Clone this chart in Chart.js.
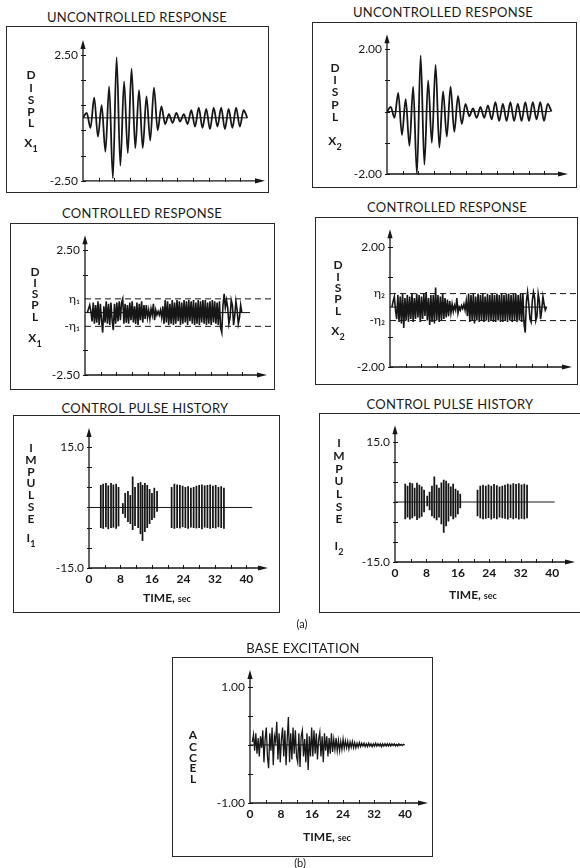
<!DOCTYPE html>
<html><head><meta charset="utf-8">
<script src="https://cdn.jsdelivr.net/npm/chart.js@4/dist/chart.umd.min.js"></script>
<style>
html,body{margin:0;padding:0;background:#fff;}
#page{position:relative;width:580px;height:868px;overflow:hidden;background:#fff;font-family:Lato,"DejaVu Sans",sans-serif;color:#1a1a1a;}
.box{position:absolute;border:1.5px solid #2a2a2a;box-sizing:border-box;}
.cv{position:absolute;}
.t{position:absolute;transform:translate(-50%,-50%);white-space:nowrap;line-height:1;}
.title{font-size:13px;letter-spacing:0.3px;}
.ylab{font-size:12px;font-weight:bold;}
.xlab{font-size:12px;font-weight:bold;}
.xlab small{font-size:9px;}
.cap{font-size:11px;}
sub{font-size:9px;vertical-align:-5px;line-height:0;}
</style></head>
<body><div id="page"></div>
<script>
const INK = '#161616';
const FONT = 'Lato';

// ---------------- data ----------------
// uncontrolled responses: successive half-cycle peaks, sampled every uncStep seconds from t = 0
const uncStep = 0.95;
const x1Uncontrolled = [0, 0.2, -0.4, 0.8, -0.75, 0.5, -1.35, 1.25, -2.4, 2.4, -1.9, 1.45, -1.4, 1.95, -1.2, 1.1, -1.2, 0.85, -0.9, 1.2, -0.5, 0.45, -0.25, 0.15, -0.2, 0.2, -0.15, 0.15, -0.25, 0.3, -0.35, 0.4, -0.4, 0.35, -0.45, 0.4, -0.35, 0.4, -0.45, 0.35, -0.4, 0.4, -0.35, 0.3, 0];
const x2Uncontrolled = [0, 0.15, -0.2, 0.6, -0.75, 0.4, -1.1, 0.8, -2.0, 1.8, -1.7, 1.0, -1.0, 1.5, -1.15, 0.65, -0.8, 0.8, -0.65, 0.5, -0.4, 0.25, -0.15, 0.1, -0.2, 0.15, -0.2, 0.2, -0.25, 0.3, -0.3, 0.25, -0.3, 0.3, -0.3, 0.25, -0.3, 0.3, -0.3, 0.3, -0.25, 0.3, -0.3, 0.25, 0];

// controlled responses: sampled every ctlStep seconds from ctlStart
const ctlStart = 0.6, ctlStep = 0.3;
const x1Controlled = [0, 0.15, 0.3, 0.05,
  -0.35, 0.4, -0.45, 0.3, -0.4, 0.45, -0.5, 0.35, -0.3, -0.8, 0.25, -0.4, 0.45,
  -0.45, 0.35, -0.5, 0.4, -0.3, -0.7, 0.35, -0.45, 0.4,
  -0.35, 0.45, -0.3, 0.4, 0.55, -0.45, 0.35, -0.4, 0.3,
  -0.45, 0.4, -0.3, 0.45, -0.4, 0.25, -0.45, 0.4, -0.5, 0.35, -0.3, 0.45, -0.4, 0.3, -0.25, 0.3,
  -0.2, 0.1, -0.25, 0.15, -0.1, 0.35, -0.3, 0.1, -0.1, 0.05, -0.1, 0.1, -0.2, 0.25,
  -0.45, 0.5, -0.4, 0.45, -0.5, 0.35, -0.45, 0.5, -0.5, 0.4, -0.45, 0.5, -0.35, 0.45, -0.5, 0.4, -0.45, 0.5, -0.4, 0.45, -0.5, 0.5, -0.35, 0.45, -0.45, 0.5, -0.5, 0.4, -0.45, 0.5, -0.5, 0.45, -0.4, 0.5, -0.45, 0.5, -0.5, 0.4, -0.45, 0.45, -0.5, 0.5, -0.4, 0.45, -0.45,
  0.4, -0.5, 0.45, -0.6, -0.8, 0.3, 0.75, 0.2,
  0.5, 0.2, -0.45, -0.2, 0.5, 0.3, -0.5, -0.1, 0.45, 0.1, -0.45, -0.2, 0.3, 0.0];
const x2Controlled = [0, 0.2, 0.35, -0.1,
  -0.4, 0.4, -0.5, 0.35, -0.55, 0.45, -0.7, 0.3, -0.45, 0.4, -0.5, 0.35, -0.4,
  0.45, -0.5, 0.3, -0.4, 0.45, -0.35, 0.4, -0.5, 0.35,
  -0.4, 0.45, -0.3, 0.5, -0.45, 0.3, -0.6, 0.4, -0.5,
  0.4, -0.55, 0.65, -0.45, 0.4, -0.5, 0.35, -0.45, 0.45, -0.4, 0.3, -0.35, 0.25, -0.3, 0.2, -0.2,
  0.1, -0.15, 0.05, -0.1, 0.3, -0.2, 0.0, -0.1, 0.05, -0.05, 0.1, -0.1, 0.2, -0.3,
  0.45, -0.5, 0.4, -0.45, 0.45, -0.55, 0.35, -0.45, 0.45, -0.5, 0.4, -0.45, 0.45, -0.5, 0.35, -0.45, 0.45, -0.5, 0.4, -0.45, 0.45, -0.5, 0.4, -0.5, 0.45, -0.45, 0.4, -0.5, 0.45, -0.5, 0.4, -0.45, 0.45, -0.5, 0.45, -0.45, 0.4, -0.5, 0.45, -0.45, 0.45, -0.5, 0.4, -0.45, 0.45,
  -0.5, 0.45, -0.55, -0.85, 0.2, 0.5, 0.1, -0.4,
  -0.5, 0.2, 0.5, 0.3, -0.45, -0.3, 0.45, 0.2, -0.4, -0.1, 0.35, 0.1, -0.1, 0.0];
const eta1 = 0.55, eta2 = 0.45;

// control pulses: time, top and bottom of each stroke
const i1Times = [3.0, 3.6, 4.3, 4.9, 5.6, 6.2, 6.9, 7.5, 8.6, 9.2, 9.9, 10.5, 11.1, 11.7, 12.5, 13.1, 13.6, 14.2, 14.8, 15.4, 16.0, 16.6, 17.3, 21.0, 21.7, 22.4, 23.1, 23.8, 24.5, 25.2, 25.9, 26.6, 27.3, 28.0, 28.7, 29.4, 30.1, 30.8, 31.5, 32.2, 32.9, 33.6, 34.3];
const i1High = [5.5, 5.8, 6.0, 5.4, 6.0, 5.6, 5.8, 5.0, 1.0, 3.5, 4.0, 3.0, 7.6, 5.0, 6.0, 6.2, 5.5, 6.0, 5.5, 4.5, 3.5, 4.8, 4.0, 5.0, 5.8, 5.6, 5.5, 5.3, 5.0, 5.2, 4.8, 5.0, 5.3, 5.5, 5.6, 5.4, 5.5, 5.6, 5.3, 5.5, 5.0, 5.2, 4.8];
const i1Low = [-5.0, -5.2, -4.8, -5.3, -5.0, -4.9, -5.2, -4.6, -1.5, -2.5, -3.5, -4.0, -5.5, -4.5, -5.0, -6.5, -8.2, -6.0, -5.0, -4.0, -3.0, -2.5, -1.0, -5.0, -5.2, -5.0, -5.1, -4.8, -5.0, -5.2, -4.9, -5.0, -5.1, -5.0, -5.3, -4.9, -5.0, -5.2, -5.0, -5.1, -4.8, -5.0, -5.2];
const i2Times = [2.6, 3.2, 3.8, 4.4, 5.0, 5.6, 6.2, 6.8, 7.4, 8.2, 8.8, 9.4, 10.0, 10.6, 11.2, 11.8, 12.4, 13.0, 13.6, 14.2, 14.8, 15.4, 16.0, 16.6, 21.0, 21.7, 22.4, 23.1, 23.8, 24.5, 25.2, 25.9, 26.6, 27.3, 28.0, 28.7, 29.4, 30.1, 30.8, 31.5, 32.2, 32.9, 33.6];
const i2High = [4.5, 4.0, 4.8, 4.6, 3.5, 4.7, 4.2, 3.8, 3.0, 1.5, 2.5, 4.0, 6.3, 4.2, 3.5, 4.8, 5.5, 5.2, 4.6, 3.8, 4.5, 3.2, 2.8, 2.0, 3.0, 4.0, 4.2, 4.0, 4.3, 4.0, 4.4, 4.1, 3.8, 4.0, 4.2, 4.5, 4.3, 4.6, 4.4, 4.6, 4.3, 4.5, 4.2];
const i2Low = [-4.2, -3.8, -4.3, -4.0, -3.5, -4.4, -4.0, -3.6, -2.5, -1.0, -2.0, -3.5, -4.0, -4.5, -3.8, -5.5, -7.6, -6.0, -4.8, -3.5, -4.2, -3.8, -3.0, -1.5, -3.5, -4.0, -4.2, -4.1, -3.9, -4.3, -4.0, -4.2, -3.8, -4.0, -4.1, -4.3, -3.9, -4.2, -4.0, -4.3, -4.1, -4.2, -4.0];

// base excitation: sampled every accStep seconds from accStart
const accStart = 0.6, accStep = 0.3;
const baseAccel = [0.05, 0.18, -0.1, 0.2, -0.15, 0.12, -0.2, 0.15, -0.05,
  0.25, -0.3, 0.1, 0.3, -0.2, -0.4, 0.2, -0.1, 0.3, -0.35, 0.15, 0.05, 0.4, -0.25, 0.2, -0.3,
  0.1, 0.3, -0.2, 0.25, -0.35, 0.1, 0.48, -0.3, 0.2, -0.25, 0.3, -0.15, 0.25, -0.2,
  -0.3, 0.2, -0.38, 0.15, 0.25, -0.2, 0.1, -0.3, 0.2, -0.43, 0.15, -0.2, 0.3,
  -0.2, 0.25, -0.15, 0.2, -0.25, 0.1, 0.22, -0.2, 0.15, -0.3, 0.2, -0.1, 0.15, -0.2, 0.12, -0.15, 0.2,
  -0.12, 0.1, -0.08, 0.12, -0.1, 0.08, -0.1, 0.06, -0.08, 0.1, -0.06, 0.07, -0.05, 0.06, -0.07, 0.05, -0.04, 0.06, -0.05, 0.04, -0.05, 0.03, -0.04, 0.04,
  -0.03, 0.03, -0.02, 0.03, -0.03, 0.02, -0.03, 0.03, -0.02, 0.02, -0.03, 0.02, -0.02, 0.03, -0.02, 0.02, -0.02, 0.02, -0.03, 0.02, -0.02, 0.02, -0.02, 0.02, -0.02, 0.02, -0.02, 0.02, -0.01, 0.02, -0.02, 0.01, -0.02, 0.02, -0.01, 0.01, -0.01, 0.01, 0];

// where the drawn zero (reference) lines end, seconds
const zeroEnds = [41.8, 41.5, 42.0, 40.0, 41.5, 40.6, 39.0];

// ticks and tick labels
const timeTicksTop = [4, 8, 12, 16, 20, 24, 28, 32, 36, 40];
const timeTicks = [0, 4, 8, 12, 16, 20, 24, 28, 32, 36, 40];
const timeTickLabels = ['0', '', '8', '', '16', '', '24', '', '32', '', '40'];
const displ1Ticks = [-2.5, -1.5, -0.5, 0.5, 1.5, 2.5];
const displ1Labels = ['-2.50', '', '', '', '', '2.50'];
const displ2Ticks = [-2, -1, 0, 1, 2];
const displ2Labels = ['-2.00', '', '', '', '2.00'];
const impulseTicks = [-15, -10, -5, 0, 5, 10, 15];
const impulseLabels = ['-15.0', '', '', '', '', '', '15.0'];
const accelTicks = [-1, -0.5, 0, 0.5, 1];
const accelLabels = ['-1.00', '', '', '', '1.00'];

// ---------------- helpers ----------------
const series = (vals, t0, dt) => vals.map((v, i) => ({x: t0 + i * dt, y: v}));
const pulses = (ts, hi, lo) => ts.map((t, i) => ({x: t, y: [lo[i], hi[i]]}));
const flat = (v, a, b) => [{x: a, y: v}, {x: b, y: v}];

const axesPlugin = {
  id: 'axesArrows',
  beforeDatasetsDraw(chart) {
    const {ctx, chartArea: a, scales: {x, y}} = chart;
    ctx.save();
    ctx.strokeStyle = INK; ctx.fillStyle = INK; ctx.lineWidth = 1.3;
    ctx.beginPath();
    ctx.moveTo(a.left, a.bottom); ctx.lineTo(a.left, a.top + 5);
    ctx.moveTo(a.left, a.bottom); ctx.lineTo(a.right - 5, a.bottom);
    ctx.stroke();
    ctx.beginPath(); ctx.moveTo(a.left, a.top); ctx.lineTo(a.left - 2.6, a.top + 9); ctx.lineTo(a.left + 2.6, a.top + 9); ctx.closePath(); ctx.fill();
    ctx.beginPath(); ctx.moveTo(a.right, a.bottom); ctx.lineTo(a.right - 10, a.bottom - 2.6); ctx.lineTo(a.right - 10, a.bottom + 2.6); ctx.closePath(); ctx.fill();
    ctx.lineWidth = 1;
    ctx.beginPath();
    y.ticks.forEach(t => {
      if (t.noMark) return;
      const py = Math.round(y.getPixelForValue(t.value)) + 0.5;
      ctx.moveTo(a.left - 2, py); ctx.lineTo(a.left + 3, py);
    });
    x.ticks.forEach(t => {
      if (t.value <= x.min) return;
      const px = Math.round(x.getPixelForValue(t.value)) + 0.5;
      ctx.moveTo(px, a.bottom - 3); ctx.lineTo(px, a.bottom + 1);
    });
    ctx.stroke();
    ctx.restore();
  }
};

const page = document.getElementById('page');
function addText(cls, html, x, y) {
  const d = document.createElement('div');
  d.className = 't ' + cls;
  d.innerHTML = html;
  d.style.left = x + 'px'; d.style.top = y + 'px';
  page.appendChild(d);
}
function stack(letters, x, ys) {
  letters.forEach((l, i) => addText('ylab', l, x, ys[i]));
}

function makePanel(p) {
  const b = document.createElement('div');
  b.className = 'box';
  Object.assign(b.style, {left: p.box.x + 'px', top: p.box.y + 'px', width: p.box.w + 'px', height: p.box.h + 'px'});
  page.appendChild(b);
  const c = document.createElement('canvas');
  c.className = 'cv';
  c.width = p.box.w; c.height = p.box.h;
  Object.assign(c.style, {left: p.box.x + 'px', top: p.box.y + 'px', width: p.box.w + 'px', height: p.box.h + 'px'});
  page.appendChild(c);
  const YW = p.area.l - p.box.x;
  const XH = p.box.y + p.box.h - p.area.b;
  new Chart(c, {
    type: 'line',
    data: {datasets: p.datasets},
    options: {
      responsive: false, animation: false, devicePixelRatio: 1,
      layout: {autoPadding: false, padding: {left: 0, bottom: 0, top: p.area.t - p.box.y, right: p.box.x + p.box.w - p.area.r}},
      plugins: {legend: {display: false}, tooltip: {enabled: false}, title: {display: false}},
      elements: {point: {radius: 0}},
      scales: {
        x: {
          type: 'linear', min: 0, max: p.xMax, offset: false,
          grid: {display: false, drawTicks: false}, border: {display: false},
          afterBuildTicks: s => { s.ticks = p.xTicks.map(v => ({value: v})); },
          afterFit: s => { s.height = XH; },
          ticks: {autoSkip: false, maxRotation: 0, minRotation: 0, padding: 4, color: INK,
                  font: {family: FONT, size: 12, weight: 'bold'}, callback: (v, i) => p.xLabels[i]}
        },
        y: {
          type: 'linear', min: p.yMin, max: p.yMax,
          grid: {display: false, drawTicks: false}, border: {display: false},
          afterBuildTicks: s => { s.ticks = p.yTicks.map((v, i) => ({value: v, noMark: p.yNoMark && p.yNoMark[i]})); },
          afterFit: s => { s.width = YW; },
          ticks: {autoSkip: false, padding: 5, color: INK,
                  font: {family: FONT, size: 12}, callback: (v, i) => p.yLabels[i]}
        }
      }
    },
    plugins: [axesPlugin]
  });
}

const lineStyle = {borderColor: INK, backgroundColor: INK, pointRadius: 0, fill: false};
const oscStyle = Object.assign({}, lineStyle, {borderWidth: 1.8, tension: 0.4, cubicInterpolationMode: 'monotone'});
const noisyStyle = Object.assign({}, lineStyle, {borderWidth: 1.6, tension: 0});
const accelStyle = Object.assign({}, lineStyle, {borderWidth: 1.3, tension: 0});
const zeroStyle = Object.assign({}, lineStyle, {borderWidth: 1, tension: 0});
const dashStyle = Object.assign({}, lineStyle, {borderWidth: 1, borderDash: [6, 4], tension: 0, clip: false});
const pulseStyle = {type: 'bar', backgroundColor: INK, borderWidth: 0, barThickness: 1.1};

// ---------------- panel 1 ----------------
addText('title', 'UNCONTROLLED RESPONSE', 137, 17);
makePanel({
  box: {x: 6, y: 26, w: 263, h: 167}, area: {l: 83, t: 40, r: 265, b: 182},
  xMax: 46.3, yMin: -2.5, yMax: 3.09,
  xTicks: timeTicksTop, xLabels: timeTicksTop.map(() => ''),
  yTicks: displ1Ticks, yLabels: displ1Labels,
  datasets: [
    Object.assign({data: flat(0, 0, zeroEnds[0])}, zeroStyle),
    Object.assign({data: series(x1Uncontrolled, 0, uncStep)}, oscStyle)
  ]
});
stack(['D', 'I', 'S', 'P', 'L', 'X<sub>1</sub>'], 31, [75, 88, 100, 112, 123, 143]);

// ---------------- panel 2 ----------------
addText('title', 'UNCONTROLLED RESPONSE', 443, 12);
makePanel({
  box: {x: 312, y: 22, w: 265, h: 166}, area: {l: 387, t: 33, r: 568, b: 174},
  xMax: 46.0, yMin: -2.0, yMax: 2.48,
  xTicks: timeTicksTop, xLabels: timeTicksTop.map(() => ''),
  yTicks: displ2Ticks, yLabels: displ2Labels,
  datasets: [
    Object.assign({data: flat(0, 0, zeroEnds[1])}, zeroStyle),
    Object.assign({data: series(x2Uncontrolled, 0, uncStep)}, oscStyle)
  ]
});
stack(['D', 'I', 'S', 'P', 'L', 'X<sub>2</sub>'], 335, [68, 80, 92, 105, 117, 141]);

// ---------------- panel 3 ----------------
addText('title', 'CONTROLLED RESPONSE', 142, 213);
makePanel({
  box: {x: 10, y: 223, w: 265, h: 167}, area: {l: 85, t: 235, r: 267, b: 375},
  xMax: 46.3, yMin: -2.5, yMax: 3.1,
  xTicks: timeTicksTop, xLabels: timeTicksTop.map(() => ''),
  yTicks: [-2.5, -1.5, -eta1, 1.5, 2.5, eta1],
  yLabels: ['-2.50', '', '-η₁', '', '2.50', 'η₁'],
  yNoMark: [false, false, true, false, false, true],
  datasets: [
    Object.assign({data: flat(eta1, 0, 48.3)}, dashStyle),
    Object.assign({data: flat(-eta1, 0, 48.3)}, dashStyle),
    Object.assign({data: flat(0, 0, zeroEnds[2])}, zeroStyle),
    Object.assign({data: series(x1Controlled, ctlStart, ctlStep)}, noisyStyle)
  ]
});
stack(['D', 'I', 'S', 'P', 'L', 'X<sub>1</sub>'], 35, [272, 283, 294, 305, 317, 338]);

// ---------------- panel 4 ----------------
addText('title', 'CONTROLLED RESPONSE', 447, 207);
makePanel({
  box: {x: 315, y: 217, w: 263, h: 168}, area: {l: 390, t: 228, r: 572, b: 367},
  xMax: 46.3, yMin: -2.0, yMax: 2.6,
  xTicks: timeTicksTop, xLabels: timeTicksTop.map(() => ''),
  yTicks: [-2, -1, -eta2, 1, 2, eta2],
  yLabels: ['-2.00', '', '-η₂', '', '2.00', 'η₂'],
  yNoMark: [false, false, true, false, false, true],
  datasets: [
    Object.assign({data: flat(eta2, 0, 47.8)}, dashStyle),
    Object.assign({data: flat(-eta2, 0, 47.8)}, dashStyle),
    Object.assign({data: flat(0, 0, zeroEnds[3])}, zeroStyle),
    Object.assign({data: series(x2Controlled, 0.5, ctlStep)}, noisyStyle)
  ]
});
stack(['D', 'I', 'S', 'P', 'L', 'X<sub>2</sub>'], 338, [265, 277, 288, 299, 311, 331]);

// ---------------- panel 5 ----------------
addText('title', 'CONTROL PULSE HISTORY', 145, 408);
makePanel({
  box: {x: 13, y: 415, w: 267, h: 198}, area: {l: 89, t: 428, r: 268, b: 568},
  xMax: 45.5, yMin: -15, yMax: 19.7,
  xTicks: timeTicks, xLabels: timeTickLabels,
  yTicks: impulseTicks, yLabels: impulseLabels,
  datasets: [
    Object.assign({data: flat(0, 0, zeroEnds[4])}, zeroStyle),
    Object.assign({data: pulses(i1Times, i1High, i1Low)}, pulseStyle)
  ]
});
stack(['I', 'M', 'P', 'U', 'L', 'S', 'E', 'I<sub>1</sub>'], 31, [448, 460, 472, 483, 495, 507, 519, 538]);
addText('xlab', 'TIME, <small>sec</small>', 167, 598);

// ---------------- panel 6 ----------------
addText('title', 'CONTROL PULSE HISTORY', 450, 404);
makePanel({
  box: {x: 319, y: 413, w: 265, h: 200}, area: {l: 395, t: 423, r: 575, b: 562},
  xMax: 45.8, yMin: -15, yMax: 19.2,
  xTicks: timeTicks, xLabels: timeTickLabels,
  yTicks: impulseTicks, yLabels: impulseLabels,
  datasets: [
    Object.assign({data: flat(0, 0, zeroEnds[5])}, zeroStyle),
    Object.assign({data: pulses(i2Times, i2High, i2Low)}, pulseStyle)
  ]
});
stack(['I', 'M', 'P', 'U', 'L', 'S', 'E', 'I<sub>2</sub>'], 339, [443, 456, 469, 481, 494, 507, 519, 546]);
addText('xlab', 'TIME, <small>sec</small>', 473, 595);

addText('cap', '(a)', 302, 623);

// ---------------- panel 7 ----------------
addText('title', 'BASE EXCITATION', 303, 648);
makePanel({
  box: {x: 172, y: 657, w: 261, h: 200}, area: {l: 250, t: 670, r: 428, b: 803},
  xMax: 45.9, yMin: -1, yMax: 1.29,
  xTicks: timeTicks, xLabels: timeTickLabels,
  yTicks: accelTicks, yLabels: accelLabels,
  datasets: [
    Object.assign({data: flat(0, 0, zeroEnds[6])}, zeroStyle),
    Object.assign({data: series(baseAccel, accStart, accStep)}, accelStyle)
  ]
});
stack(['A', 'C', 'C', 'E', 'L'], 193, [735, 747, 758, 768, 779]);
addText('xlab', 'TIME, <small>sec</small>', 327, 837);
addText('cap', '(b)', 300, 862);
</script>
</body></html>
